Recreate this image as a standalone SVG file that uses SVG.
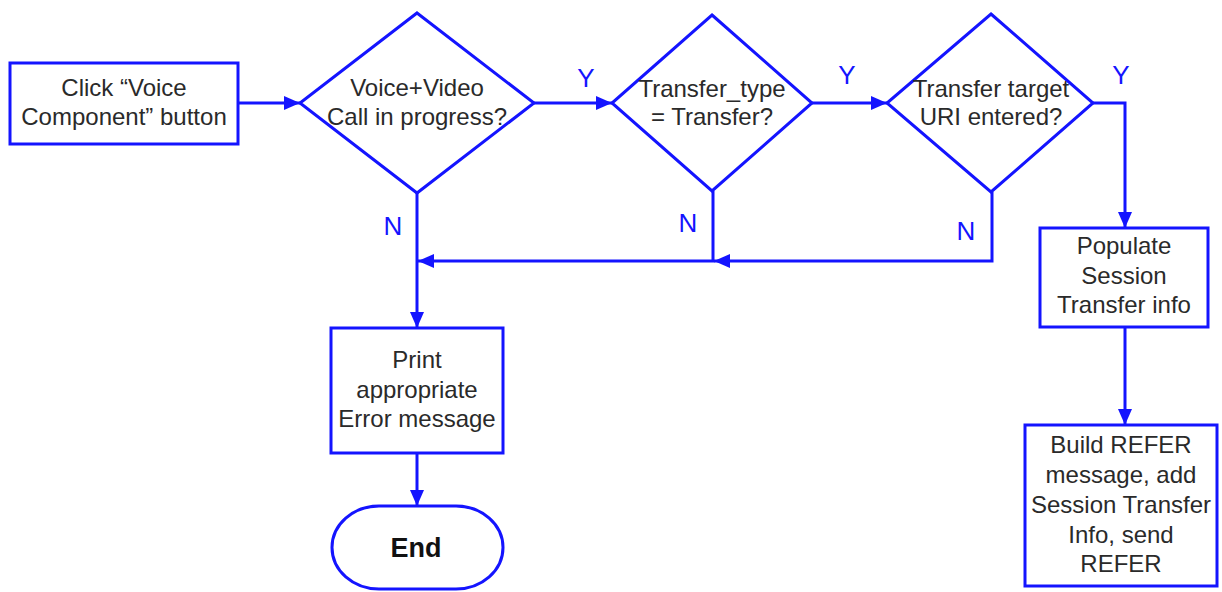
<svg xmlns="http://www.w3.org/2000/svg" width="1222" height="592" viewBox="0 0 1222 592">
  <style>
    .shape { fill: #ffffff; stroke: #1414ff; stroke-width: 3; }
    .edge { fill: none; stroke: #1414ff; stroke-width: 3; marker-end: url(#arrow); }
    .txt { font-family: "Liberation Sans", Arial, sans-serif; font-size: 24px; fill: #2a2a2a; text-anchor: middle; }
    .lbl { font-family: "Liberation Sans", Arial, sans-serif; font-size: 26px; fill: #1414ff; text-anchor: middle; }
    .bold { font-weight: bold; font-size: 27px; fill: #111111; }
  </style>
  <defs>
    <marker id="arrow" markerUnits="userSpaceOnUse" markerWidth="16" markerHeight="14" refX="16" refY="7" orient="auto">
      <path d="M0,0 L16,7 L0,14 z" fill="#1414ff"/>
    </marker>
  </defs>

  <rect width="1222" height="592" fill="#ffffff"/>

  <!-- connectors -->
  <g id="connectors">
    <line class="edge" x1="238" y1="103" x2="300" y2="103"/>
    <line class="edge" x1="534" y1="103" x2="612" y2="103"/>
    <line class="edge" x1="812" y1="103" x2="887" y2="103"/>
    <polyline class="edge" points="1093,103 1125,103 1125,228"/>
    <line class="edge" x1="1125" y1="327" x2="1125" y2="425"/>
    <line class="edge" x1="417" y1="193" x2="417" y2="328"/>
    <polyline class="edge" points="713,191 713,261 418,261"/>
    <polyline class="edge" points="992,192 992,261 714,261"/>
    <line class="edge" x1="417" y1="453" x2="417" y2="506"/>
    <text class="lbl" x="586" y="87">Y</text>
    <text class="lbl" x="847" y="84">Y</text>
    <text class="lbl" x="1121" y="84">Y</text>
    <text class="lbl" x="393" y="235">N</text>
    <text class="lbl" x="688" y="232">N</text>
    <text class="lbl" x="966" y="240">N</text>
  </g>

  <!-- start action -->
  <g id="click-voice">
    <rect class="shape" x="10" y="63" width="228" height="81"/>
    <text class="txt" x="124" y="96">Click “Voice</text>
    <text class="txt" x="124" y="125">Component” button</text>
  </g>

  <!-- decision: call in progress -->
  <g id="call-in-progress">
    <polygon class="shape" points="417,13 534,103 417,193 300,103"/>
    <text class="txt" x="417" y="96">Voice+Video</text>
    <text class="txt" x="417" y="125">Call in progress?</text>
  </g>

  <!-- decision: transfer type -->
  <g id="transfer-type">
    <polygon class="shape" points="712,15 812,103 712,191 612,103"/>
    <text class="txt" x="712" y="97">Transfer_type</text>
    <text class="txt" x="712" y="125">= Transfer?</text>
  </g>

  <!-- decision: target URI -->
  <g id="target-uri">
    <polygon class="shape" points="991,14 1093,103 991,192 887,103"/>
    <text class="txt" x="991" y="97">Transfer target</text>
    <text class="txt" x="991" y="125">URI entered?</text>
  </g>

  <!-- populate session transfer info -->
  <g id="populate">
    <rect class="shape" x="1040" y="228" width="168" height="99"/>
    <text class="txt" x="1124" y="254">Populate</text>
    <text class="txt" x="1124" y="284">Session</text>
    <text class="txt" x="1124" y="313">Transfer info</text>
  </g>

  <!-- build and send REFER -->
  <g id="build-refer">
    <rect class="shape" x="1025" y="425" width="192" height="161"/>
    <text class="txt" x="1121" y="453">Build REFER</text>
    <text class="txt" x="1121" y="483">message, add</text>
    <text class="txt" x="1121" y="513">Session Transfer</text>
    <text class="txt" x="1121" y="543">Info, send</text>
    <text class="txt" x="1121" y="572">REFER</text>
  </g>

  <!-- error message -->
  <g id="print-error">
    <rect class="shape" x="331" y="328" width="172" height="125"/>
    <text class="txt" x="417" y="368">Print</text>
    <text class="txt" x="417" y="398">appropriate</text>
    <text class="txt" x="417" y="427">Error message</text>
  </g>

  <!-- terminal -->
  <g id="end">
    <rect class="shape" x="332" y="506" width="171" height="83" rx="47" ry="41.5"/>
    <text class="txt bold" x="416" y="557">End</text>
  </g>
</svg>
